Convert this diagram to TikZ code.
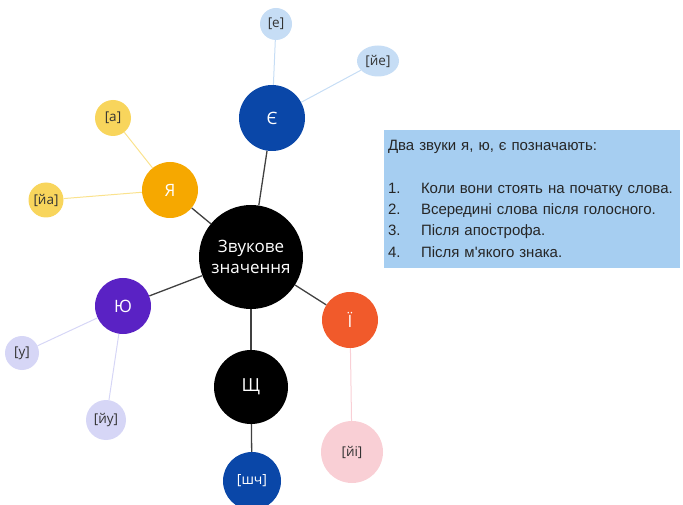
\documentclass[tikz,border=0pt]{standalone}
\usepackage{fontspec}
\setmainfont{Liberation Sans}
\newfontfamily\nodefont{Open Sans}
\usetikzlibrary{positioning,shapes.geometric}

\definecolor{darkblue}{HTML}{0A47A8}
\definecolor{lightblue}{HTML}{C6DDF5}
\definecolor{yaorange}{HTML}{F6A800}
\definecolor{yayellow}{HTML}{F8D55C}
\definecolor{yupurple}{HTML}{5A22C4}
\definecolor{yulav}{HTML}{D6D6F6}
\definecolor{yired}{HTML}{F15A2B}
\definecolor{yipink}{HTML}{F9CFD5}
\definecolor{boxblue}{HTML}{A6CEF1}

\begin{document}
\begin{tikzpicture}[x=1pt,y=-1pt,
main/.style={circle,inner sep=0pt,font=\nodefont\fontsize{17}{19}\selectfont,text=white},
sound/.style={circle,inner sep=0pt,font=\nodefont\fontsize{13.5}{15}\selectfont,text=black!80},
strong/.style={draw=black!75,line width=1.3pt},
weak/.style={line width=1pt}]
\useasboundingbox (0,0) rectangle (683,505);

\node[main,fill=black,minimum size=104pt,font=\nodefont\fontsize{17}{21}\selectfont,align=center] (c) at (251,257) {Звукове\\значення};

\node[main,fill=darkblue,minimum size=66pt] (ye) at (272,118) {Є};
\node[sound,fill=lightblue,minimum size=32pt] (e) at (276,24) {[е]};
\node[sound,fill=lightblue,ellipse,minimum width=42pt,minimum height=31pt] (je) at (378,61) {[йе]};

\node[main,fill=yaorange,minimum size=56pt] (ya) at (170,190) {Я};
\node[sound,fill=yayellow,minimum size=36pt] (a) at (113,118) {[а]};
\node[sound,fill=yayellow,minimum size=35pt] (ja) at (46,200) {[йа]};

\node[main,fill=yupurple,minimum size=56pt] (yu) at (123,306) {Ю};
\node[sound,fill=yulav,minimum size=34pt] (u) at (22,353) {[у]};
\node[sound,fill=yulav,minimum size=40pt] (ju) at (106,420) {[йу]};

\node[main,fill=black,minimum size=74pt,font=\nodefont\fontsize{18}{20}\selectfont] (shch) at (251,387) {Щ};
\node[main,fill=darkblue,minimum size=58pt,font=\nodefont\fontsize{14}{16}\selectfont] (sch) at (252,481) {[шч]};

\node[main,fill=yired,minimum size=56pt] (yi) at (350,320) {Ї};
\node[sound,fill=yipink,minimum size=62pt] (ji) at (352,452) {[йі]};

\draw[strong] (c) -- (ye);
\draw[strong] (c) -- (ya);
\draw[strong] (c) -- (yu);
\draw[strong] (c) -- (shch);
\draw[strong] (c) -- (yi);
\draw[strong] (shch) -- (sch);

\draw[weak,draw=lightblue] (ye) -- (e);
\draw[weak,draw=lightblue] (ye) -- (je);
\draw[weak,draw=yayellow!70] (ya) -- (a);
\draw[weak,draw=yayellow!70] (ya) -- (ja);
\draw[weak,draw=yulav] (yu) -- (u);
\draw[weak,draw=yulav] (yu) -- (ju);
\draw[weak,draw=yipink] (yi) -- (ji);

% rule box
\node[fill=boxblue,minimum width=296pt,minimum height=138pt,text width=288pt,inner xsep=4pt,
  align=left,font=\fontsize{15}{21.3}\selectfont,text=black!85] (rules) at (532,199)
  {Два звуки я, ю, є позначають:\\[21pt]
   \makebox[33pt][l]{1.}Коли вони стоять на початку слова.\\
   \makebox[33pt][l]{2.}Всередині слова після голосного.\\
   \makebox[33pt][l]{3.}Після апострофа.\\
   \makebox[33pt][l]{4.}Після м\textquotesingle якого знака.};
\end{tikzpicture}
\end{document}
